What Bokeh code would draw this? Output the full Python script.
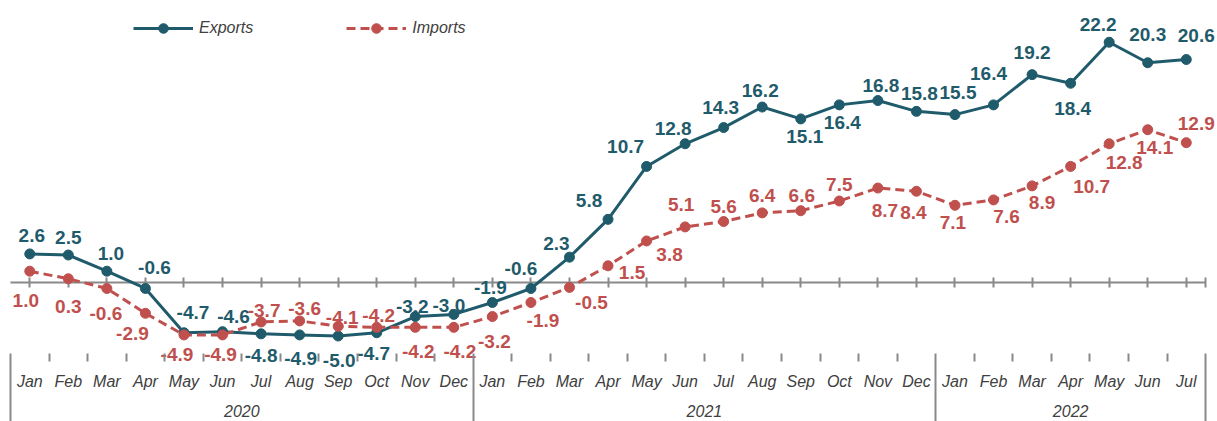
from bokeh.plotting import figure
from bokeh.models import (ColumnDataSource, Range1d, LinearAxis, FixedTicker,
                          Legend, LegendItem)
from bokeh.core.properties import value
from bokeh.embed import file_html
from bokeh.resources import INLINE

# ---------------- data ----------------
years = ["2020", "2021", "2022"]
months_per_year = [12, 12, 7]
month_names = ["Jan", "Feb", "Mar", "Apr", "May", "Jun",
               "Jul", "Aug", "Sep", "Oct", "Nov", "Dec"]

exports = [2.6, 2.5, 1.0, -0.6, -4.7, -4.6, -4.8, -4.9, -5.0, -4.7, -3.2, -3.0,
           -1.9, -0.6, 2.3, 5.8, 10.7, 12.8, 14.3, 16.2, 15.1, 16.4, 16.8, 15.8,
           15.5, 16.4, 19.2, 18.4, 22.2, 20.3, 20.6]
imports = [1.0, 0.3, -0.6, -2.9, -4.9, -4.9, -3.7, -3.6, -4.1, -4.2, -4.2, -4.2,
           -3.2, -1.9, -0.5, 1.5, 3.8, 5.1, 5.6, 6.4, 6.6, 7.5, 8.7, 8.4,
           7.1, 7.6, 8.9, 10.7, 12.8, 14.1, 12.9]

# data-label placement (screen px offsets from the point; +dy = down)
exports_label_dx = [2, 0, 4, 9, 9, 11, 0, 1, 1, -3, -3, -5,
                    -2, -10, -13, -19, -21, -12, -3, -2, 4, 3, 3, 3,
                    3, -5, 0, 2, -11, 0, 10]
exports_label_dy = [-18, -18, -18, -21, -20, -15, 22, 24, 24, 21, -10, -9,
                    -15, -20, -14, -19, -20, -15, -20, -17, 18, 18, -15, -18,
                    -22, -31, -22, 25, -18, -28, -24]
imports_label_dx = [-4, 0, -1, -13, -7, -2, 3, 5, 4, 2, 3, 6,
                    2, 12, 22, 24, 23, -4, 0, 0, 1, 0, 7, -3,
                    -2, 13, 10, 21, 15, 7, 10]
imports_label_dy = [29, 28, 25, 20, 20, 20, -11, -12, -9, -12, 24, 24,
                    25, 18, 15, 7, 14, -22, -15, -17, -15, -17, 22, 21,
                    17, 17, 17, 20, 19, 18, -19]

# ---------------- derived ----------------
months = []
for cnt in months_per_year:
    months += month_names[:cnt]
n = len(months)
xc = [i + 0.5 for i in range(n)]
year_edges = [0]
for cnt in months_per_year:
    year_edges.append(year_edges[-1] + cnt)
year_centers = [(a + b) / 2 for a, b in zip(year_edges[:-1], year_edges[1:])]
month_edges = [i for i in range(1, n) if i not in year_edges]

TEAL = "#1F5B6B"
RED = "#C0504D"
GRAY = "#898989"
TXT = "#404040"
FONT = "Liberation Sans"

W, H = 1217, 421
px_per_x = 38.55
px_per_y = 10.8
left_px = 10.0
zero_px = 281.5
axis_px = 353.0

x_start = -left_px / px_per_x
x_end = x_start + W / px_per_x
y_end = zero_px / px_per_y
y_start = y_end - H / px_per_y
axis_loc = (zero_px - axis_px) / px_per_y

p = figure(width=W, height=H, x_range=Range1d(x_start, x_end),
           y_range=Range1d(y_start, y_end), x_axis_location=None,
           y_axis_location=None, toolbar_location=None, output_backend="svg",
           min_border=0, outline_line_color=None)
p.xgrid.visible = False
p.ygrid.visible = False

src = ColumnDataSource(dict(
    x=xc, exports=exports, imports=imports,
    ex_lbl=[f"{v:.1f}" for v in exports], im_lbl=[f"{v:.1f}" for v in imports],
    ex_dx=exports_label_dx, ex_dy=exports_label_dy,
    im_dx=imports_label_dx, im_dy=imports_label_dy))

# zero line with ticks at category centres
zero_axis = LinearAxis(fixed_location=0,
                       ticker=FixedTicker(ticks=xc + [n], minor_ticks=[]),
                       bounds=(0, n), axis_line_color=GRAY, axis_line_width=2,
                       major_tick_in=5, major_tick_out=5,
                       major_tick_line_color=GRAY, major_tick_line_width=2,
                       minor_tick_line_color=None, major_label_text_color=None)
zero_axis.level = "underlay"
p.add_layout(zero_axis, "below")

# month axis
month_axis = LinearAxis(fixed_location=axis_loc,
                        ticker=FixedTicker(ticks=xc, minor_ticks=month_edges),
                        axis_line_color=None, major_tick_in=0, major_tick_out=0,
                        major_tick_line_color=None,
                        minor_tick_in=0, minor_tick_out=8,
                        minor_tick_line_color=GRAY, minor_tick_line_width=2,
                        major_label_overrides={x: m for x, m in zip(xc, months)},
                        major_label_standoff=11,
                        major_label_text_font=FONT,
                        major_label_text_font_size="16px",
                        major_label_text_font_style="italic",
                        major_label_text_color=TXT)
p.add_layout(month_axis, "below")

# year axis with separators (label offset counts the long separator ticks)
year_axis = LinearAxis(fixed_location=axis_loc,
                       ticker=FixedTicker(ticks=year_centers, minor_ticks=year_edges),
                       axis_line_color=None, major_tick_in=0, major_tick_out=0,
                       major_tick_line_color=None,
                       minor_tick_in=0, minor_tick_out=70,
                       minor_tick_line_color=GRAY, minor_tick_line_width=2,
                       major_label_overrides={x: y for x, y in zip(year_centers, years)},
                       major_label_standoff=-19,
                       major_label_text_font=FONT,
                       major_label_text_font_size="16px",
                       major_label_text_font_style="italic",
                       major_label_text_color=TXT)
p.add_layout(year_axis, "below")

ex_line = p.line("x", "exports", source=src, line_color=TEAL, line_width=3)
ex_pts = p.scatter("x", "exports", source=src, size=10, fill_color=TEAL,
                   line_color=TEAL)
im_line = p.line("x", "imports", source=src, line_color=RED, line_width=3,
                 line_dash="9 5")
im_pts = p.scatter("x", "imports", source=src, size=10, fill_color=RED,
                   line_color=RED)

common = dict(source=src, text_font=value(FONT), text_font_size="19px",
              text_font_style="bold", text_align="center",
              text_baseline="middle")
p.text("x", "exports", text="ex_lbl", x_offset="ex_dx", y_offset="ex_dy",
       text_color=TEAL, **common)
p.text("x", "imports", text="im_lbl", x_offset="im_dx", y_offset="im_dy",
       text_color=RED, **common)

legend = Legend(items=[LegendItem(label="Exports", renderers=[ex_line, ex_pts]),
                       LegendItem(label="Imports", renderers=[im_line, im_pts])],
                orientation="horizontal", location=(133, 381),
                glyph_width=60, glyph_height=24, label_standoff=6, spacing=93,
                padding=0, margin=0, border_line_color=None,
                background_fill_alpha=0, label_text_font=FONT,
                label_text_font_size="16px", label_text_font_style="italic",
                label_text_color=TXT)
p.add_layout(legend)

open("out.html", "w").write(file_html(p, INLINE))
